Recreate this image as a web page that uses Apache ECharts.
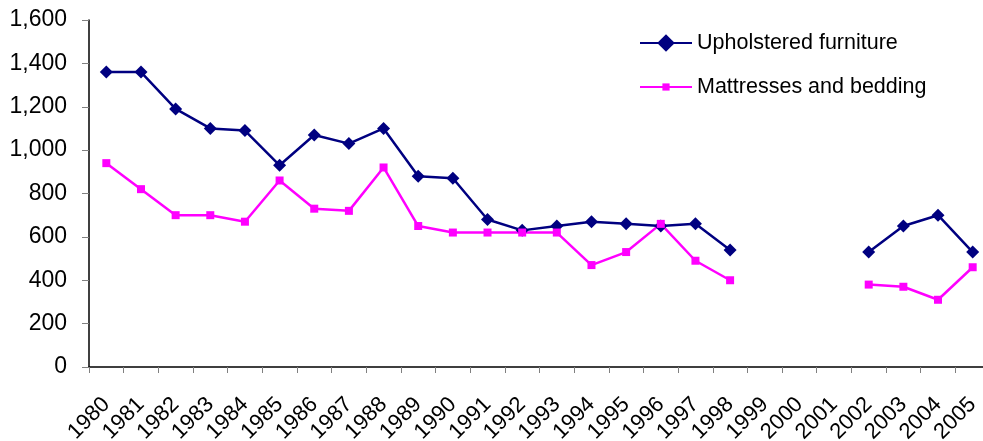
<!DOCTYPE html>
<html lang="en">
<head>
    <meta charset="UTF-8">
    <title>Upholstered furniture and mattresses</title>
    <script src="https://cdn.jsdelivr.net/npm/echarts@6/dist/echarts.min.js"></script>
</head>
<body style="margin: 0; background: #fff">
<div id="chart" style="width: 983px; height: 441px"></div>
<script>
    // years on the category axis
    let years = ['1980','1981','1982','1983','1984','1985','1986','1987','1988','1989',
        '1990','1991','1992','1993','1994','1995','1996','1997','1998','1999',
        '2000','2001','2002','2003','2004','2005'];
    // values, null = no data
    let upholstered = [1360,1360,1190,1100,1090,930,1070,1030,1100,880,
        870,680,630,650,670,660,650,660,540,null,
        null,null,530,650,700,530];
    let mattresses = [940,820,700,700,670,860,730,720,920,650,
        620,620,620,620,470,530,660,490,400,null,
        null,null,380,370,310,460];
    let yTicks = [0, 200, 400, 600, 800, 1000, 1200, 1400, 1600];

    let font = 'Liberation Sans, Arial, sans-serif';
    let legendText = {fontFamily: font, fontSize: 21.5, color: '#000', lineHeight: 22};
    let myChart = echarts.init(document.getElementById('chart'));
    let option = {
        animation: false,
        grid: {
            left: 89, right: -7, top: 20, bottom: 74,
            outerBoundsMode: 'none'
        },
        // two legends so each icon gets its own symbol size
        legend: [
            {
                left: 634, top: 27,
                itemWidth: 52, itemHeight: 22,
                textStyle: legendText,
                data: ['Upholstered furniture']
            },
            {
                left: 634, top: 71,
                itemWidth: 52, itemHeight: 9,
                textStyle: legendText,
                data: ['Mattresses and bedding']
            }
        ],
        xAxis: {
            type: 'category',
            data: years,
            boundaryGap: true,
            axisLine: {lineStyle: {color: '#000', width: 1.5}},
            axisTick: {show: true, length: 6, lineStyle: {color: '#808080'}},
            axisLabel: {
                rotate: 45, interval: 0, margin: 34,
                fontFamily: font, fontSize: 22, color: '#000'
            },
            splitLine: {show: false}
        },
        yAxis: {
            type: 'value',
            min: yTicks[0],
            max: yTicks[yTicks.length - 1],
            interval: 200,
            axisLine: {show: true, lineStyle: {color: '#000', width: 1.5}},
            axisTick: {show: true, length: 7, lineStyle: {color: '#808080'}},
            axisLabel: {
                margin: 22, fontFamily: font, fontSize: 23, color: '#000',
                formatter: function (v) { return v.toLocaleString('en-US'); }
            },
            splitLine: {show: false}
        },
        series: [
            {
                name: 'Upholstered furniture',
                type: 'line',
                data: upholstered,
                connectNulls: false,
                symbol: 'diamond',
                symbolSize: 13,
                lineStyle: {color: '#000080', width: 2.5},
                itemStyle: {color: '#000080'}
            },
            {
                name: 'Mattresses and bedding',
                type: 'line',
                data: mattresses,
                connectNulls: false,
                symbol: 'rect',
                symbolSize: 8,
                lineStyle: {color: '#ff00ff', width: 2.5},
                itemStyle: {color: '#ff00ff'}
            }
        ]
    };
    myChart.setOption(option, true);
</script>
</body>
</html>
